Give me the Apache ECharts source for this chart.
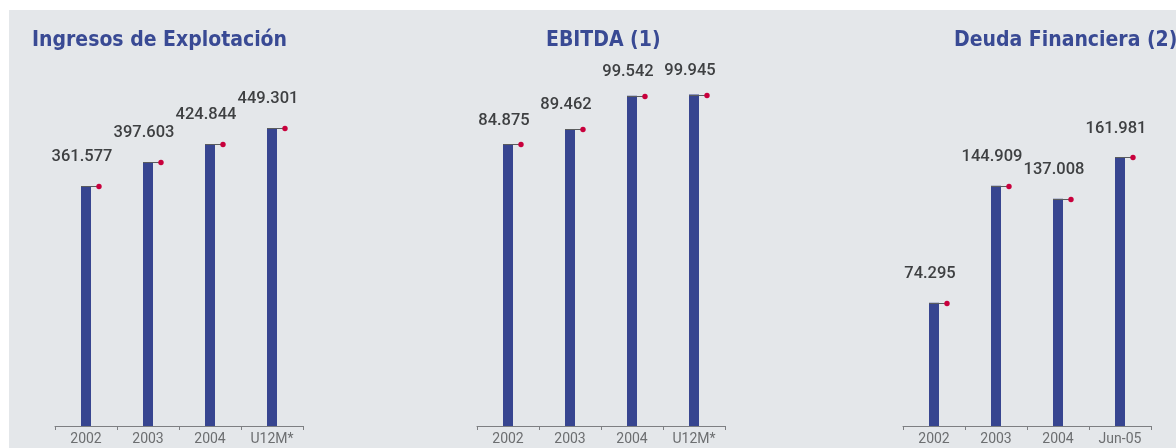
<!DOCTYPE html>
<html>
<head>
<meta charset="utf-8">
<script src="https://cdn.jsdelivr.net/npm/echarts@6/dist/echarts.min.js"></script>
<style>
  html, body { margin: 0; padding: 0; background: #ffffff; }
  #wrap { position: relative; width: 1176px; height: 448px; overflow: hidden; background: #ffffff; }
  #panel { position: absolute; left: 9px; top: 10px; right: 0; bottom: 0; background: #e4e7ea; }
  #chart { position: absolute; left: 0; top: 0; width: 1176px; height: 448px; }
</style>
</head>
<body>
<div id="wrap"><div id="panel"></div><div id="chart"></div></div>
<script>
// ---- data ----
const titles = ['Ingresos de Explotación', 'EBITDA (1)', 'Deuda Financiera (2)'];
const categoriesA = ['2002', '2003', '2004', 'U12M*'];
const categoriesB = ['2002', '2003', '2004', 'U12M*'];
const categoriesC = ['2002', '2003', '2004', 'Jun-05'];
const ingresos = [361577, 397603, 424844, 449301];
const ebitda = [84875, 89462, 99542, 99945];
const deuda = [74295, 144909, 137008, 161981];
const yMaxes = [600000, 120000, 240000];

// ---- style ----
const NUM_FONT = 'Roboto, "DejaVu Sans Condensed", sans-serif';
const TITLE_FONT = '"DejaVu Sans Condensed", Roboto, sans-serif';
const BLUE = '#374590';
const TITLE_BLUE = '#394a94';
const RED = '#c8003c';
const AXIS = '#7d7f82';

const fmt = v => {
  const s = String(Math.round(v));
  return s.replace(/\B(?=(\d{3})+(?!\d))/g, '.');
};

const gridsPos = [
  { left: 55, width: 248 },
  { left: 477, width: 248 },
  { left: 903, width: 248 }
];
const labelDist = [20, 15, 20];
const cats = [categoriesA, categoriesB, categoriesC];
const values = [ingresos, ebitda, deuda];

const chart = echarts.init(document.getElementById('chart'), null, { renderer: 'canvas' });

const grid = gridsPos.map(g => ({ left: g.left, width: g.width, top: 28, bottom: 22, containLabel: false }));
const xAxis = cats.map((c, i) => ({
  type: 'category', gridIndex: i, data: c,
  axisLine: { lineStyle: { color: AXIS, width: 1 } },
  axisTick: { show: true, length: 4, lineStyle: { color: AXIS } },
  axisLabel: { interval: 0, color: '#6c6e70', fontFamily: NUM_FONT, fontSize: 14, margin: 6 }
}));
const yAxis = yMaxes.map((m, i) => ({
  type: 'value', gridIndex: i, min: 0, max: m, show: false, splitLine: { show: false }
}));

const series = [];
values.forEach((vals, i) => {
  series.push({
    type: 'bar', xAxisIndex: i, yAxisIndex: i, data: vals, barWidth: 10,
    itemStyle: { color: BLUE },
    label: {
      show: true, position: 'top', distance: labelDist[i], offset: [-4, 0],
      formatter: p => fmt(p.value),
      color: '#3e4042', fontFamily: NUM_FONT, fontWeight: 500, fontSize: 16.5, lineHeight: 18
    },
    silent: true, animation: false
  });
  series.push({
    type: 'custom', xAxisIndex: i, yAxisIndex: i,
    data: vals.map((v, k) => [k, v]),
    renderItem: (params, api) => {
      const p = api.coord([api.value(0), api.value(1)]);
      const y = Math.round(p[1]) + 0.5;
      return {
        type: 'group',
        children: [
          { type: 'line', shape: { x1: p[0] - 5, y1: y, x2: p[0] + 13, y2: y }, style: { stroke: '#5a5c5e', lineWidth: 1 } },
          { type: 'circle', shape: { cx: p[0] + 13, cy: y, r: 2.7 }, style: { fill: RED } }
        ]
      };
    },
    silent: true, animation: false, z: 5
  });
});

const titleLefts = [27, 541, 949];
const title = titles.map((t, i) => ({
  text: t, left: titleLefts[i], top: 25,
  textStyle: { color: TITLE_BLUE, fontFamily: TITLE_FONT, fontWeight: 'bold', fontSize: 21 }
}));

chart.setOption({
  backgroundColor: 'transparent',
  animation: false,
  title, grid, xAxis, yAxis, series
});
</script>
</body>
</html>
